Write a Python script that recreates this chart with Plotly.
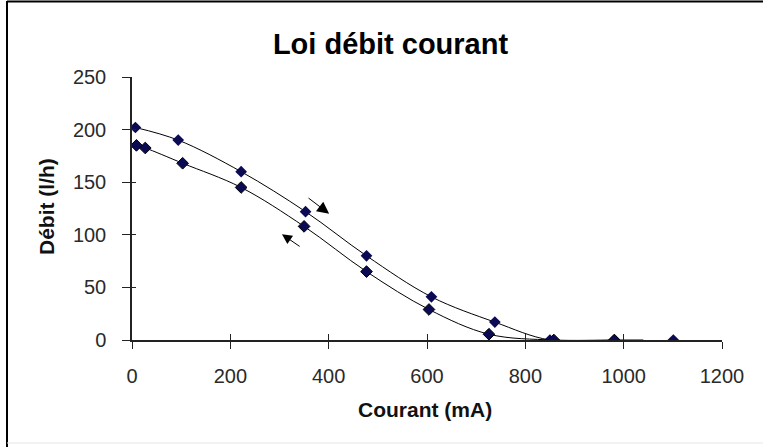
import plotly.graph_objects as go

# Courant croissant (montée)
courant_montee = [7, 94, 222, 353, 477, 609, 738, 850, 981]
debit_montee = [202, 190, 160, 122, 80, 41, 17, 0, 0]

# Courant décroissant (descente)
courant_descente = [1040, 981, 858, 726, 604, 477, 350, 222, 103, 27, 9]
debit_descente = [0, 0, 0, 5.5, 29, 65, 108, 145, 168, 182.5, 185]

# Mesure isolée en fin de plage
courant_isole = [1101]
debit_isole = [0]

x_ticks = [0, 200, 400, 600, 800, 1000, 1200]
y_ticks = [0, 50, 100, 150, 200, 250]

MARK = "#0b0b55"
FONT = "Liberation Sans, Arial, sans-serif"

fig = go.Figure()

fig.add_trace(go.Scatter(
    x=courant_montee, y=debit_montee, mode="lines+markers",
    line=dict(color="black", width=1, shape="spline", smoothing=1.0),
    marker=dict(symbol="diamond", size=9, color=MARK, opacity=1),
    showlegend=False,
))

# premier point de la descente sans marqueur
sizes = [0] + [9] * (len(courant_descente) - 1)
fig.add_trace(go.Scatter(
    x=courant_descente, y=debit_descente, mode="lines+markers",
    line=dict(color="black", width=1, shape="spline", smoothing=1.0),
    marker=dict(symbol="diamond", size=sizes, color=MARK, opacity=1),
    showlegend=False,
))

fig.add_trace(go.Scatter(
    x=courant_isole, y=debit_isole, mode="markers",
    marker=dict(symbol="diamond", size=9, color=MARK, opacity=1),
    showlegend=False,
))

# second jeu d'axes pour obtenir des graduations traversantes
fig.add_trace(go.Scatter(x=[None], y=[None], xaxis="x2", yaxis="y2",
                         showlegend=False, hoverinfo="skip"))

tickfont = dict(family=FONT, size=20, color="#2a2a2a")

fig.update_layout(
    width=763, height=448,
    margin=dict(l=132, r=41, t=77, b=108),
    paper_bgcolor="white", plot_bgcolor="white",
    title=dict(text="Loi débit courant", x=390.5 / 763, xref="container", xanchor="center",
               y=1 - 44 / 448, yref="container", yanchor="middle",
               font=dict(family=FONT, size=29, color="black", weight="bold")),
    xaxis=dict(range=[0, 1200], tickvals=x_ticks, ticks="outside", ticklen=7, tickwidth=1.3,
               tickcolor="#222", showline=True, linecolor="#222", linewidth=1.5,
               showgrid=False, zeroline=False, tickfont=tickfont, ticklabelstandoff=10),
    yaxis=dict(range=[0, 250], tickvals=y_ticks, ticks="outside", ticklen=8, tickwidth=1.3,
               tickcolor="#222", showline=True, linecolor="#222", linewidth=1.5,
               showgrid=False, zeroline=False, tickfont=tickfont, ticklabelstandoff=12),
    xaxis2=dict(range=[0, 1200], tickvals=x_ticks, ticks="inside", ticklen=6, tickwidth=1.3,
                tickcolor="#222", overlaying="x", showticklabels=False, showline=False,
                showgrid=False, zeroline=False, anchor="y2"),
    yaxis2=dict(range=[0, 250], tickvals=y_ticks, ticks="inside", ticklen=4, tickwidth=1.3,
                tickcolor="#222", overlaying="y", showticklabels=False, showline=False,
                showgrid=False, zeroline=False, anchor="x2"),
)

titlefont = dict(family=FONT, size=21, color="#111", weight="bold")
fig.add_annotation(text="Courant (mA)", xref="paper", yref="paper",
                   x=(425 - 132) / 590, y=(340 - 409) / 263,
                   showarrow=False, font=titlefont, xanchor="center", yanchor="middle")
fig.add_annotation(text="Débit (l/h)", xref="paper", yref="paper",
                   x=(46 - 132) / 590, y=(340 - 207) / 263, textangle=-90,
                   showarrow=False, font=titlefont, xanchor="center", yanchor="middle")

# flèches indiquant le sens de parcours
fig.add_annotation(x=401, y=120, ax=356, ay=136, xref="x", yref="y", axref="x", ayref="y",
                   text="", showarrow=True, arrowhead=2, arrowsize=2.4, arrowwidth=1,
                   arrowcolor="black")
fig.add_annotation(x=305, y=100.5, ax=344, ay=88, xref="x", yref="y", axref="x", ayref="y",
                   text="", showarrow=True, arrowhead=2, arrowsize=2.0, arrowwidth=1,
                   arrowcolor="black")

# cadre de la zone de graphique
def px_x(p):
    return (p - 132) / 590

def px_y(p):
    return (340 - p) / 263

fig.add_shape(type="line", xref="paper", yref="paper", x0=px_x(7), x1=px_x(7),
              y0=px_y(1), y1=px_y(447), line=dict(color="black", width=2))
fig.add_shape(type="line", xref="paper", yref="paper", x0=px_x(7), x1=px_x(763),
              y0=px_y(1.5), y1=px_y(1.5), line=dict(color="black", width=2))
fig.add_shape(type="line", xref="paper", yref="paper", x0=px_x(7), x1=px_x(763),
              y0=px_y(443), y1=px_y(443), line=dict(color="#e6e6e6", width=1))

fig.write_html("out.html")
